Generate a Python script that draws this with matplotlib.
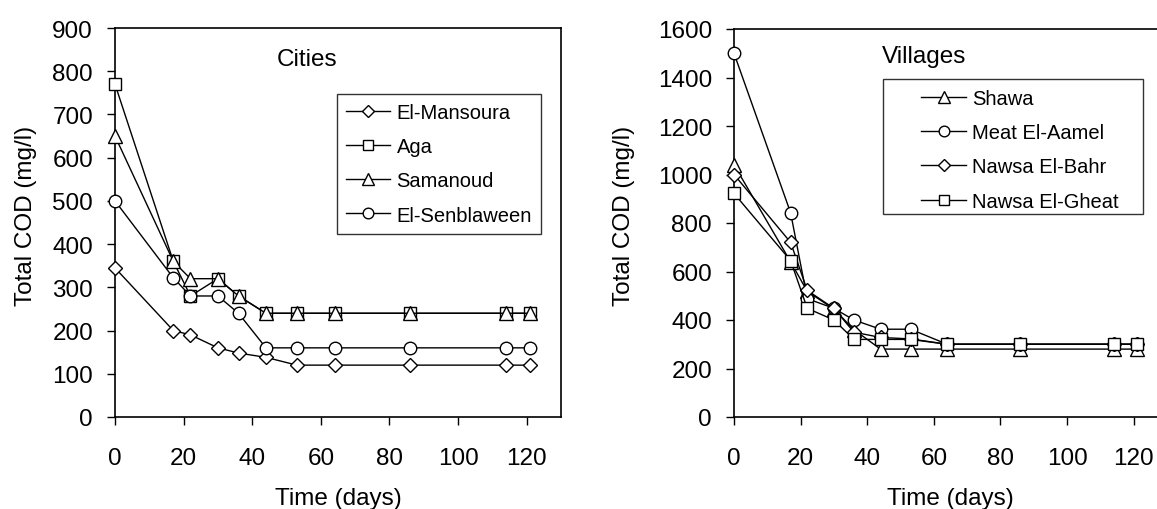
import matplotlib
matplotlib.use('Agg')
import matplotlib.pyplot as plt
from matplotlib.patches import Rectangle

plt.rcParams['font.family'] = ['Liberation Sans', 'DejaVu Sans']

# sampling days (same for every site)
days = [0, 17, 22, 30, 36, 44, 53, 64, 86, 114, 121]

# total COD (mg/l) - cities
el_mansoura = [345, 200, 190, 160, 148, 138, 120, 120, 120, 120, 120]
aga = [770, 360, 280, 320, 280, 240, 240, 240, 240, 240, 240]
samanoud = [650, 360, 320, 320, 280, 240, 240, 240, 240, 240, 240]
el_senblaween = [500, 322, 280, 280, 240, 160, 160, 160, 160, 160, 160]

# total COD (mg/l) - villages
shawa = [1040, 640, 518, 445, 360, 280, 280, 280, 280, 280, 280]
meat_el_aamel = [1500, 842, 488, 448, 400, 362, 362, 300, 300, 300, 300]
nawsa_el_bahr = [1000, 720, 522, 448, 350, 328, 322, 300, 300, 300, 300]
nawsa_el_gheat = [922, 645, 448, 400, 320, 320, 320, 300, 300, 300, 300]

city_series = [
    ('El-Mansoura', el_mansoura, 'D', 7.5),
    ('Aga', aga, 's', 8.5),
    ('Samanoud', samanoud, '^', 9.5),
    ('El-Senblaween', el_senblaween, 'o', 9),
]
village_series = [
    ('Shawa', shawa, '^', 9.5),
    ('Meat El-Aamel', meat_el_aamel, 'o', 9),
    ('Nawsa El-Bahr', nawsa_el_bahr, 'D', 7.5),
    ('Nawsa El-Gheat', nawsa_el_gheat, 's', 8.5),
]

W, H = 1157, 510
fig = plt.figure(figsize=(W / 100, H / 100), dpi=100)
ax1 = fig.add_axes([115 / W, 1 - 418 / H, 446 / W, 389 / H])
ax2 = fig.add_axes([734 / W, 1 - 418 / H, 433 / W, 388 / H])


def style_axis(ax, ymax, ystep):
    ax.set_xlim(0, 130)
    ax.set_ylim(0, ymax)
    ax.set_xticks(range(0, 121, 20))
    ax.set_yticks(range(0, ymax + 1, ystep))
    for sp in ax.spines.values():
        sp.set_linewidth(1.2)
        sp.set_color('black')
    ax.tick_params(axis='both', direction='out', length=5.8, width=1.0,
                   labelsize=17.5, colors='black')
    ax.tick_params(axis='x', pad=16)
    ax.tick_params(axis='y', pad=10)
    ax.set_xlabel('Time (days)', fontsize=17.5)
    ax.set_ylabel('Total COD (mg/l)', fontsize=17.5)
    ax.xaxis.set_label_coords(0.5, -0.18)


def draw_series(ax, series):
    for name, vals, mk, ms in series:
        ax.plot(days, vals, color='black', linewidth=1.0, marker=mk,
                markersize=ms, markerfacecolor='white',
                markeredgecolor='black', markeredgewidth=1.0,
                label=name, clip_on=False, zorder=3)


legend_kw = dict(loc='upper left', borderaxespad=0, fontsize=14.5,
                 numpoints=1, markerscale=0.85, handlelength=2.2,
                 handletextpad=0.3, labelspacing=0.75, borderpad=0.45)

# Cities
draw_series(ax1, city_series)
style_axis(ax1, 900, 100)
ax1.yaxis.set_label_coords(-0.175, 0.52)
ax1.text(0.43, 0.92, 'Cities', transform=ax1.transAxes, ha='center',
         va='center', fontsize=17.5)
leg1 = ax1.legend(bbox_to_anchor=(0.498, 0.830), fancybox=False,
                  framealpha=1, **legend_kw)
leg1.get_frame().set_edgecolor('#333333')
leg1.get_frame().set_linewidth(1.0)

# Villages
draw_series(ax2, village_series)
style_axis(ax2, 1600, 200)
ax2.yaxis.set_label_coords(-0.229, 0.52)
ax2.text(0.44, 0.93, 'Villages', transform=ax2.transAxes, ha='center',
         va='center', fontsize=17.5)
leg2 = ax2.legend(bbox_to_anchor=(0.412, 0.868), frameon=False, **legend_kw)
# legend box drawn separately (wider than its entries)
ax2.add_patch(Rectangle(((883 - 734) / 433, (418 - 215) / 388),
                        (1143 - 883) / 433, (215 - 80) / 388,
                        transform=ax2.transAxes, facecolor='white',
                        edgecolor='#333333', linewidth=1.0, zorder=4))
leg2.set_zorder(5)

fig.savefig('out.png', dpi=100)
